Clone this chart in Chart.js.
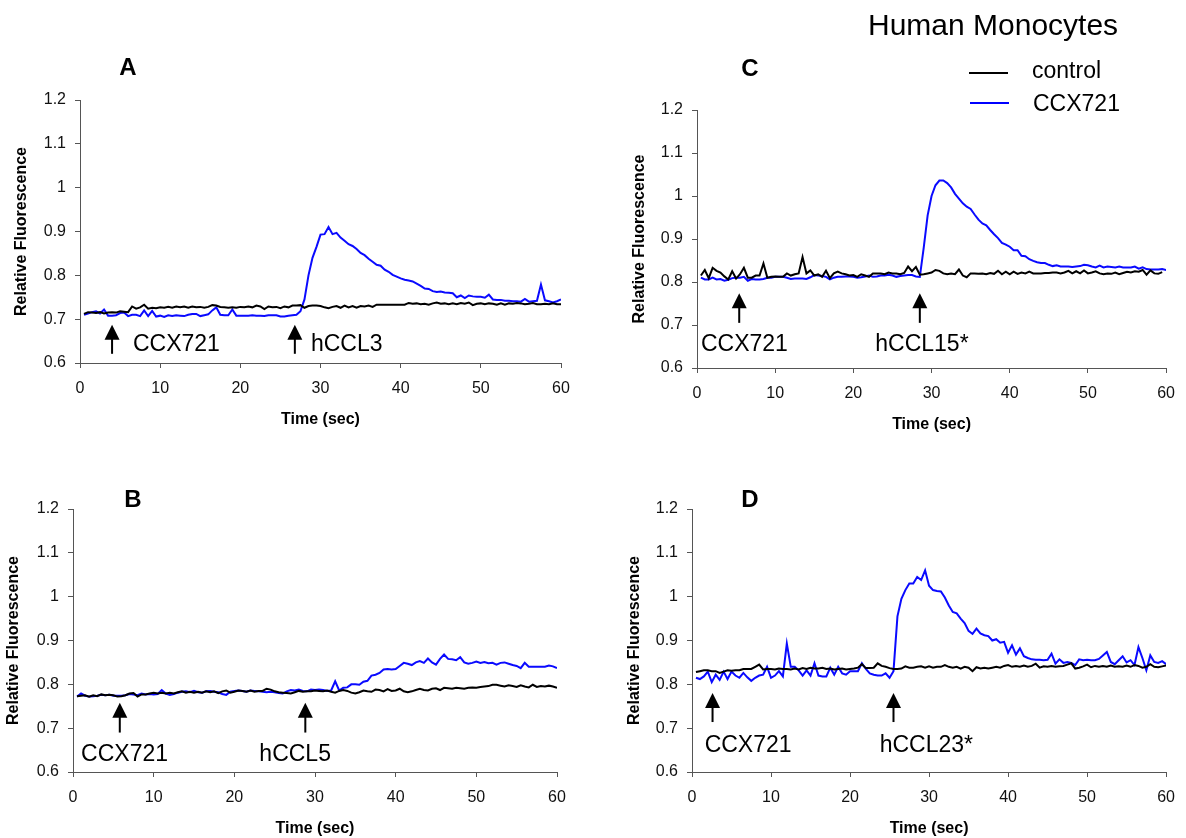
<!DOCTYPE html>
<html>
<head>
<meta charset="utf-8">
<script src="https://cdn.jsdelivr.net/npm/chart.js@4.4.1/dist/chart.umd.min.js"></script>
<style>
  html, body { margin: 0; padding: 0; background: #fff; }
  #wrap { position: relative; width: 1186px; height: 838px; }
  #wrap canvas { position: absolute; left: 0; top: 0; }
</style>
</head>
<body>
<div id="wrap">
  <canvas id="panelA" width="1186" height="838"></canvas>
  <canvas id="panelB" width="1186" height="838"></canvas>
  <canvas id="panelC" width="1186" height="838"></canvas>
  <canvas id="panelD" width="1186" height="838"></canvas>
</div>
<script>
// sample times (sec), shared by all four panels
const timeSec = [
  0.5, 1, 1.5, 2, 2.5, 3, 3.5, 4, 4.5, 5, 5.5, 6, 6.5, 7, 7.5, 8, 8.5, 9, 9.5, 10,
  10.5, 11, 11.5, 12, 12.5, 13, 13.5, 14, 14.5, 15, 15.5, 16, 16.5, 17, 17.5, 18, 18.5, 19, 19.5, 20,
  20.5, 21, 21.5, 22, 22.5, 23, 23.5, 24, 24.5, 25, 25.5, 26, 26.5, 27, 27.5, 28, 28.5, 29, 29.5, 30,
  30.5, 31, 31.5, 32, 32.5, 33, 33.5, 34, 34.5, 35, 35.5, 36, 36.5, 37, 37.5, 38, 38.5, 39, 39.5, 40,
  40.5, 41, 41.5, 42, 42.5, 43, 43.5, 44, 44.5, 45, 45.5, 46, 46.5, 47, 47.5, 48, 48.5, 49, 49.5, 50,
  50.5, 51, 51.5, 52, 52.5, 53, 53.5, 54, 54.5, 55, 55.5, 56, 56.5, 57, 57.5, 58, 58.5, 59, 59.5, 60
];

// A: hCCL3
const controlA = [
  0.712, 0.716, 0.715, 0.714, 0.716, 0.713, 0.715, 0.716, 0.715, 0.718,
  0.717, 0.716, 0.729, 0.724, 0.727, 0.733, 0.724, 0.726, 0.725, 0.727,
  0.726, 0.728, 0.726, 0.729, 0.727, 0.729, 0.726, 0.729, 0.727, 0.728,
  0.726, 0.728, 0.732, 0.731, 0.728, 0.727, 0.726, 0.727, 0.726, 0.728,
  0.727, 0.729, 0.727, 0.731, 0.729, 0.723, 0.729, 0.727, 0.728, 0.725,
  0.729, 0.727, 0.731, 0.731, 0.732, 0.726, 0.730, 0.731, 0.731, 0.730,
  0.727, 0.725, 0.728, 0.730, 0.726, 0.731, 0.727, 0.730, 0.726, 0.730,
  0.729, 0.731, 0.728, 0.733, 0.733, 0.733, 0.733, 0.733, 0.733, 0.733,
  0.733, 0.737, 0.735, 0.736, 0.734, 0.735, 0.733, 0.736, 0.738, 0.735,
  0.736, 0.734, 0.736, 0.734, 0.737, 0.735, 0.738, 0.732, 0.735, 0.736,
  0.734, 0.736, 0.735, 0.733, 0.736, 0.733, 0.736, 0.735, 0.737, 0.736,
  0.734, 0.735, 0.737, 0.734, 0.734, 0.735, 0.734, 0.736, 0.734, 0.734
];
const ccxA = [
  0.710, 0.713, 0.716, 0.718, 0.713, 0.722, 0.708, 0.708, 0.709, 0.714,
  0.715, 0.707, 0.710, 0.710, 0.707, 0.720, 0.707, 0.719, 0.706, 0.708,
  0.705, 0.709, 0.707, 0.709, 0.708, 0.707, 0.710, 0.712, 0.712, 0.707,
  0.709, 0.711, 0.720, 0.727, 0.710, 0.709, 0.709, 0.722, 0.708, 0.708,
  0.708, 0.708, 0.709, 0.708, 0.708, 0.707, 0.709, 0.709, 0.709, 0.706,
  0.706, 0.708, 0.709, 0.710, 0.718, 0.745, 0.800, 0.840, 0.865, 0.893,
  0.894, 0.910, 0.894, 0.897, 0.886, 0.879, 0.871, 0.867, 0.860, 0.851,
  0.846, 0.838, 0.831, 0.824, 0.822, 0.813, 0.808, 0.801, 0.797, 0.793,
  0.790, 0.788, 0.786, 0.781, 0.776, 0.770, 0.769, 0.764, 0.762, 0.763,
  0.761, 0.760, 0.759, 0.750, 0.754, 0.748, 0.754, 0.752, 0.751, 0.751,
  0.749, 0.756, 0.745, 0.744, 0.744, 0.742, 0.742, 0.741, 0.741, 0.740,
  0.746, 0.740, 0.741, 0.742, 0.779, 0.743, 0.741, 0.738, 0.741, 0.745
];

// B: hCCL5
const controlB = [
  0.773, 0.774, 0.775, 0.772, 0.775, 0.773, 0.777, 0.775, 0.776, 0.775,
  0.772, 0.773, 0.775, 0.779, 0.780, 0.772, 0.777, 0.777, 0.779, 0.781,
  0.779, 0.781, 0.779, 0.781, 0.779, 0.782, 0.784, 0.781, 0.783, 0.781,
  0.783, 0.781, 0.784, 0.782, 0.784, 0.780, 0.784, 0.786, 0.781, 0.783,
  0.786, 0.785, 0.783, 0.786, 0.783, 0.785, 0.785, 0.790, 0.788, 0.784,
  0.782, 0.781, 0.780, 0.779, 0.782, 0.785, 0.783, 0.784, 0.784, 0.786,
  0.785, 0.784, 0.786, 0.783, 0.781, 0.785, 0.787, 0.785, 0.781, 0.779,
  0.782, 0.786, 0.784, 0.783, 0.788, 0.787, 0.784, 0.789, 0.785, 0.786,
  0.790, 0.784, 0.782, 0.784, 0.787, 0.790, 0.787, 0.786, 0.790, 0.791,
  0.787, 0.792, 0.791, 0.790, 0.792, 0.791, 0.790, 0.792, 0.793, 0.792,
  0.794, 0.795, 0.796, 0.799, 0.799, 0.797, 0.795, 0.798, 0.796, 0.794,
  0.798, 0.795, 0.793, 0.799, 0.794, 0.796, 0.795, 0.797, 0.795, 0.792
];
const ccxB = [
  0.772, 0.779, 0.774, 0.772, 0.773, 0.774, 0.776, 0.775, 0.776, 0.774,
  0.774, 0.774, 0.775, 0.778, 0.777, 0.775, 0.779, 0.777, 0.778, 0.777,
  0.778, 0.787, 0.779, 0.776, 0.778, 0.781, 0.783, 0.784, 0.782, 0.785,
  0.782, 0.781, 0.784, 0.785, 0.783, 0.782, 0.778, 0.776, 0.783, 0.785,
  0.786, 0.785, 0.783, 0.786, 0.785, 0.784, 0.783, 0.782, 0.783, 0.782,
  0.780, 0.779, 0.784, 0.787, 0.786, 0.788, 0.785, 0.784, 0.788, 0.787,
  0.788, 0.787, 0.785, 0.786, 0.807, 0.786, 0.792, 0.793, 0.800, 0.800,
  0.799, 0.806, 0.808, 0.820, 0.822, 0.826, 0.834, 0.835, 0.834, 0.835,
  0.842, 0.849, 0.847, 0.844, 0.850, 0.853, 0.849, 0.859, 0.850, 0.845,
  0.858, 0.868, 0.858, 0.857, 0.855, 0.862, 0.850, 0.847, 0.849, 0.852,
  0.849, 0.851, 0.848, 0.849, 0.845, 0.849, 0.850, 0.847, 0.844, 0.842,
  0.837, 0.849, 0.840, 0.840, 0.840, 0.840, 0.840, 0.843, 0.841, 0.837
];

// C: hCCL15*
const controlC = [
  0.815, 0.828, 0.809, 0.833, 0.826, 0.822, 0.813, 0.806, 0.825, 0.808,
  0.818, 0.833, 0.810, 0.810, 0.815, 0.815, 0.843, 0.810, 0.812, 0.813,
  0.812, 0.812, 0.820, 0.815, 0.818, 0.820, 0.858, 0.820, 0.827, 0.815,
  0.818, 0.812, 0.826, 0.809, 0.820, 0.824, 0.820, 0.818, 0.815, 0.816,
  0.812, 0.818, 0.815, 0.812, 0.820, 0.820, 0.820, 0.818, 0.822, 0.820,
  0.820, 0.818, 0.821, 0.836, 0.825, 0.835, 0.817, 0.818, 0.820, 0.822,
  0.828, 0.826, 0.820, 0.818, 0.820, 0.818, 0.829, 0.815, 0.811, 0.820,
  0.820, 0.819, 0.820, 0.818, 0.821, 0.819, 0.826, 0.818, 0.824, 0.818,
  0.824, 0.819, 0.822, 0.820, 0.824, 0.820, 0.820, 0.820, 0.821, 0.821,
  0.822, 0.822, 0.820, 0.822, 0.826, 0.820, 0.825, 0.820, 0.827, 0.820,
  0.822, 0.825, 0.820, 0.818, 0.820, 0.819, 0.822, 0.818, 0.821, 0.824,
  0.822, 0.825, 0.824, 0.828, 0.817, 0.827, 0.820, 0.819, 0.823, null
];
const ccxC = [
  0.810, 0.806, 0.806, 0.810, 0.806, 0.807, 0.803, 0.805, 0.809, 0.810,
  0.810, 0.812, 0.803, 0.807, 0.806, 0.806, 0.807, 0.810, 0.810, 0.812,
  0.812, 0.812, 0.810, 0.807, 0.808, 0.808, 0.808, 0.807, 0.811, 0.816,
  0.815, 0.814, 0.812, 0.806, 0.810, 0.812, 0.812, 0.813, 0.813, 0.812,
  0.810, 0.811, 0.813, 0.815, 0.812, 0.813, 0.815, 0.815, 0.817, 0.815,
  0.812, 0.814, 0.815, 0.816, 0.816, 0.813, 0.812, 0.880, 0.955, 1.000,
  1.025, 1.036, 1.036, 1.030, 1.020, 1.005, 0.994, 0.983, 0.975, 0.970,
  0.957, 0.945, 0.936, 0.932, 0.921, 0.911, 0.902, 0.891, 0.887, 0.882,
  0.874, 0.874, 0.861, 0.860, 0.853, 0.849, 0.846, 0.844, 0.844, 0.840,
  0.837, 0.839, 0.836, 0.836, 0.836, 0.835, 0.836, 0.837, 0.840, 0.839,
  0.836, 0.834, 0.838, 0.834, 0.836, 0.835, 0.834, 0.836, 0.834, 0.834,
  0.834, 0.836, 0.831, 0.834, 0.830, 0.829, 0.829, 0.829, 0.830, 0.828
];

// D: hCCL23*
const controlD = [
  0.828, 0.830, 0.832, 0.832, 0.830, 0.830, 0.826, 0.829, 0.832, 0.831,
  0.832, 0.832, 0.835, 0.835, 0.835, 0.840, 0.845, 0.834, 0.835, 0.835,
  0.834, 0.836, 0.835, 0.835, 0.834, 0.836, 0.834, 0.837, 0.835, 0.838,
  0.836, 0.836, 0.838, 0.835, 0.836, 0.834, 0.835, 0.836, 0.834, 0.835,
  0.836, 0.838, 0.846, 0.837, 0.837, 0.838, 0.848, 0.842, 0.840, 0.837,
  0.835, 0.835, 0.836, 0.841, 0.838, 0.838, 0.840, 0.841, 0.838, 0.841,
  0.838, 0.840, 0.840, 0.844, 0.840, 0.838, 0.840, 0.836, 0.840, 0.838,
  0.830, 0.839, 0.836, 0.838, 0.836, 0.838, 0.840, 0.838, 0.842, 0.844,
  0.840, 0.842, 0.840, 0.843, 0.840, 0.842, 0.847, 0.838, 0.841, 0.840,
  0.842, 0.840, 0.841, 0.842, 0.845, 0.848, 0.836, 0.838, 0.841, 0.845,
  0.839, 0.842, 0.840, 0.842, 0.840, 0.843, 0.840, 0.841, 0.840, 0.843,
  0.840, 0.844, 0.842, 0.838, 0.840, 0.846, 0.840, 0.839, 0.841, 0.843
];
const ccxD = [
  0.815, 0.812, 0.818, 0.829, 0.805, 0.822, 0.810, 0.829, 0.812, 0.829,
  0.820, 0.815, 0.826, 0.816, 0.808, 0.815, 0.820, 0.822, 0.840, 0.815,
  0.820, 0.830, 0.818, 0.893, 0.840, 0.840, 0.832, 0.820, 0.832, 0.820,
  0.848, 0.820, 0.818, 0.818, 0.838, 0.822, 0.840, 0.825, 0.822, 0.830,
  0.830, 0.830, 0.848, 0.835, 0.825, 0.822, 0.820, 0.820, 0.825, 0.815,
  0.830, 0.955, 0.995, 1.015, 1.030, 1.030, 1.045, 1.038, 1.060, 1.025,
  1.015, 1.013, 1.012, 0.998, 0.980, 0.965, 0.962, 0.950, 0.940, 0.922,
  0.915, 0.927, 0.916, 0.912, 0.910, 0.900, 0.903, 0.895, 0.897, 0.872,
  0.889, 0.868, 0.882, 0.864, 0.860, 0.857, 0.856, 0.856, 0.855, 0.856,
  0.870, 0.847, 0.857, 0.849, 0.851, 0.849, 0.844, 0.857, 0.855, 0.856,
  0.855, 0.855, 0.858, 0.866, 0.874, 0.851, 0.846, 0.855, 0.864, 0.850,
  0.855, 0.844, 0.885, 0.860, 0.832, 0.866, 0.851, 0.849, 0.853, 0.846
];

// stimulus arrows: time of each arrow and the label next to it
const stimTextA = ['CCX721', 'hCCL3'];
const stimTimeA = [4, 26.8];
const stimTextB = ['CCX721', 'hCCL5'];
const stimTimeB = [5.8, 28.8];
const stimTextC = ['CCX721', 'hCCL15*'];
const stimTimeC = [5.4, 28.5];
const stimTextD = ['CCX721', 'hCCL23*'];
const stimTimeD = [2.6, 25.5];

const FONT = '"Liberation Sans", Arial, Helvetica, sans-serif';
Chart.defaults.font.family = FONT;
Chart.defaults.color = '#111';

function toPoints(ys) {
  return timeSec.map((t, i) => ({ x: t, y: ys[i] }));
}

function drawArrow(ctx, x, yTop, yBot) {
  ctx.beginPath();
  ctx.moveTo(x, yTop);
  ctx.lineTo(x - 7.5, yTop + 15);
  ctx.lineTo(x + 7.5, yTop + 15);
  ctx.closePath();
  ctx.fill();
  ctx.fillRect(x - 1, yTop + 14, 2, yBot - yTop - 14);
}

// arrows, stimulus labels, panel letter, plus header/legend on panel C
const panelMarks = {
  id: 'panelMarks',
  afterDatasetsDraw(chart, args, opts) {
    const { ctx } = chart;
    const xs = chart.scales.x, ys = chart.scales.y;
    ctx.save();
    ctx.fillStyle = '#000';
    opts.times.forEach((t, i) => {
      drawArrow(ctx, xs.getPixelForValue(t), ys.getPixelForValue(opts.arrowTop), ys.getPixelForValue(opts.arrowBottom));
      ctx.font = '23px ' + FONT;
      ctx.textAlign = 'left';
      ctx.textBaseline = 'middle';
      ctx.fillText(opts.texts[i], xs.getPixelForValue(opts.textAt[i]), ys.getPixelForValue(opts.textY));
    });

    ctx.font = 'bold 24px ' + FONT;
    ctx.textAlign = 'center';
    ctx.textBaseline = 'alphabetic';
    ctx.fillText(opts.letter, opts.letterPos[0], opts.letterPos[1]);

    if (opts.header) {
      ctx.font = '30px ' + FONT;
      ctx.textAlign = 'left';
      ctx.fillText('Human Monocytes', 868, 35);
      ctx.font = '23px ' + FONT;
      ctx.lineWidth = 2;
      ctx.strokeStyle = '#000';
      ctx.beginPath(); ctx.moveTo(969, 73); ctx.lineTo(1008, 73); ctx.stroke();
      ctx.fillText('control', 1032, 78);
      ctx.strokeStyle = '#0000ff';
      ctx.beginPath(); ctx.moveTo(970, 103); ctx.lineTo(1009, 103); ctx.stroke();
      ctx.fillText('CCX721', 1033, 111);
    }
    ctx.restore();
  }
};

function makePanel(id, control, ccx, marks, pad, yWidth) {
  return new Chart(document.getElementById(id), {
    type: 'line',
    data: {
      datasets: [
        { label: 'control', data: toPoints(control), borderColor: '#000000', borderWidth: 2, pointRadius: 0, tension: 0, spanGaps: false },
        { label: 'CCX721', data: toPoints(ccx), borderColor: '#0a0aff', borderWidth: 2, pointRadius: 0, tension: 0 }
      ]
    },
    options: {
      responsive: false,
      animation: false,
      events: [],
      layout: { padding: pad },
      plugins: {
        legend: { display: false },
        tooltip: { enabled: false },
        panelMarks: marks
      },
      scales: {
        x: {
          type: 'linear',
          min: 0,
          max: 60,
          ticks: { stepSize: 10, font: { size: 16 }, padding: 11, color: '#111' },
          grid: { drawOnChartArea: false, tickLength: 5, color: '#555' },
          border: { color: '#555', width: 1 },
          title: { display: true, text: 'Time (sec)', font: { size: 16, weight: 'bold' }, padding: 0, color: '#000' },
          afterFit: (s) => { s.height = 66; }
        },
        y: {
          min: 0.6,
          max: 1.2,
          ticks: {
            stepSize: 0.1,
            font: { size: 16 },
            padding: 9,
            color: '#111',
            callback: (v) => String(Math.round(v * 10) / 10)
          },
          grid: { drawOnChartArea: false, tickLength: 5, color: '#555' },
          border: { color: '#555', width: 1 },
          title: { display: true, text: 'Relative Fluorescence', font: { size: 16, weight: 'bold' }, padding: 0, color: '#000' },
          afterFit: (s) => { s.width = yWidth; }
        }
      }
    },
    plugins: [panelMarks]
  });
}

makePanel('panelA', controlA, ccxA,
  { times: stimTimeA, texts: stimTextA, textAt: [6.6, 28.8], textY: 0.641, arrowTop: 0.687, arrowBottom: 0.621, letter: 'A', letterPos: [128, 75] },
  { left: 12, top: 100, right: 625, bottom: 409 }, 68);

makePanel('panelB', controlB, ccxB,
  { times: stimTimeB, texts: stimTextB, textAt: [1.0, 23.1], textY: 0.639, arrowTop: 0.758, arrowBottom: 0.690, letter: 'B', letterPos: [133, 507] },
  { left: 4, top: 509, right: 629, bottom: 0 }, 69);

makePanel('panelC', controlC, ccxC,
  { times: stimTimeC, texts: stimTextC, textAt: [0.5, 22.8], textY: 0.655, arrowTop: 0.774, arrowBottom: 0.705, letter: 'C', letterPos: [750, 76], header: true },
  { left: 630, top: 110, right: 13, bottom: 404 }, 67);

makePanel('panelD', controlD, ccxD,
  { times: stimTimeD, texts: stimTextD, textAt: [1.6, 23.75], textY: 0.66, arrowTop: 0.780, arrowBottom: 0.714, letter: 'D', letterPos: [750, 507] },
  { left: 625, top: 509, right: 13, bottom: 0 }, 67);
</script>
</body>
</html>
